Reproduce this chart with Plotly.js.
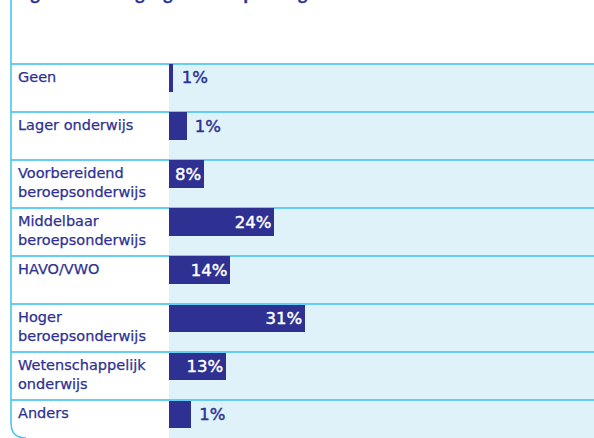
<!DOCTYPE html>
<html>
<head>
<meta charset="utf-8">
<script src="https://cdn.plot.ly/plotly-3.0.1.min.js"></script>
<style>
html,body{margin:0;padding:0;background:#fff;}
#chart{width:594px;height:438px;}
.bartext-inside{stroke:#ffffff;stroke-width:0.45px;}
.bartext-outside{stroke:#2e3192;stroke-width:0.45px;}
.annotation-text{stroke:#2e3192;stroke-width:0.25px;}
</style>
</head>
<body>
<div id="chart"></div>
<script>
// ---- data ----
const categories = ["Geen", "Lager onderwijs", "Voorbereidend<br>beroepsonderwijs", "Middelbaar<br>beroepsonderwijs", "HAVO/VWO", "Hoger<br>beroepsonderwijs", "Wetenschappelijk<br>onderwijs", "Anders"];
const barValues = [1, 4, 8, 24, 14, 31, 13, 5];
const valueLabels = ["1%", "1%", "8%", "24%", "14%", "31%", "13%", "1%"];
const labelInside = [false, false, true, true, true, true, true, false];
const titleText = "Figuur 2.1  Hoogst genoten opleiding";

// ---- style ----
const W = 594, H = 438;
const NAVY = "#2e3192";
const GRID = "#66cdf4";
const BORDER = "#3cc3f0";
const BG = "#dff2fa";
const pxPerUnit = 4.39;
const x0px = 169, leftPx = 11;
const xMin = -(x0px - leftPx) / pxPerUnit;
const xMax = (W - x0px) / pxPerUnit;
const yTop = -0.077, yBottom = 7.79;

const rows = categories.map((_, i) => i);

const trace = {
  type: "bar",
  orientation: "h",
  x: barValues,
  y: rows,
  width: 0.57,
  offset: 0.012,
  marker: {color: NAVY, line: {width: 0}},
  text: valueLabels.map((t, i) => labelInside[i] ? t : "\u00a0" + t),
  textposition: labelInside.map(v => v ? "inside" : "outside"),
  insidetextanchor: "end",
  textfont: {family: "DejaVu Sans", size: 16.5},
  insidetextfont: {family: "DejaVu Sans", size: 16.5, color: "#ffffff"},
  outsidetextfont: {family: "DejaVu Sans", size: 16.5, color: NAVY},
  constraintext: "none",
  cliponaxis: false,
  hoverinfo: "none"
};

const annotations = categories.map((c, i) => ({
  xref: "paper", yref: "y",
  x: 17 / W, y: i + 0.085,
  xanchor: "left", yanchor: "top",
  text: c, align: "left", showarrow: false, borderpad: 0,
  font: {family: "DejaVu Sans", size: 14.5, color: NAVY}
}));
annotations.push({
  xref: "paper", yref: "paper",
  x: 16 / W, y: 1 - 5 / H,
  xanchor: "left", yanchor: "bottom",
  text: "<b>" + titleText + "</b>", showarrow: false, borderpad: 0,
  font: {family: "Open Sans", size: 16, color: NAVY}
});

const shapes = [
  {type: "rect", xref: "x", yref: "y", x0: 0, x1: xMax, y0: 0, y1: yBottom,
   fillcolor: BG, line: {width: 0}, layer: "below"},
  {type: "path", xref: "paper", yref: "paper",
   path: `M ${leftPx / W},1 L ${leftPx / W},${1 - 423 / H} Q ${leftPx / W},0 ${26 / W},0`,
   line: {color: BORDER, width: 1.5}}
];

const layout = {
  width: W, height: H,
  margin: {l: 0, r: 0, t: 0, b: 0, pad: 0},
  paper_bgcolor: "#ffffff",
  plot_bgcolor: "#ffffff",
  showlegend: false,
  bargap: 0,
  xaxis: {domain: [leftPx / W, 1], range: [xMin, xMax], showgrid: false, zeroline: false,
          showticklabels: false, ticks: "", showline: false, fixedrange: true},
  yaxis: {domain: [0, 1 - 60 / H], range: [yBottom, yTop], tickvals: rows, showgrid: true,
          gridcolor: GRID, gridwidth: 2, zeroline: false, showticklabels: false, ticks: "",
          showline: false, fixedrange: true},
  shapes: shapes,
  annotations: annotations
};

Plotly.newPlot("chart", [trace], layout, {displayModeBar: false, staticPlot: true});
</script>
</body>
</html>
